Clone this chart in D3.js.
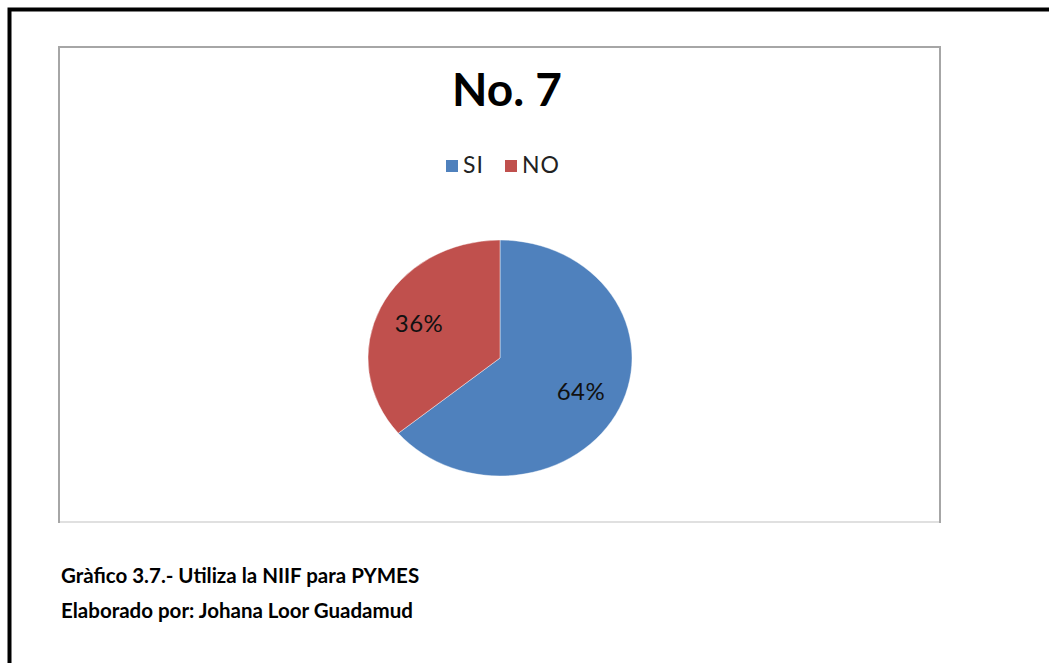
<!DOCTYPE html>
<html>
<head>
<meta charset="utf-8">
<script src="https://cdn.jsdelivr.net/npm/d3@7"></script>
<style>
  body { margin: 0; background: #fff; }
  text { font-family: Lato, 'Open Sans', sans-serif; }
</style>
</head>
<body>
<div id="chart"></div>
<script>
const categories = ['SI', 'NO']
const values = [64, 36]
const colors = ['#4F81BD', '#C0504D']
const title = 'No. 7'
const captions = ['Gràfico 3.7.- Utiliza la NIIF para PYMES', 'Elaborado por: Johana Loor Guadamud']

const width = 1049
const height = 663

const svg = d3
  .select('#chart')
  .append('svg')
  .attr('width', width)
  .attr('height', height)

// page border (top + left only)
svg.append('path')
  .attr('d', 'M9.5,663 L9.5,9.5 L1049,9.5')
  .attr('fill', 'none')
  .attr('stroke', '#000')
  .attr('stroke-width', 4)

// chart frame
const frame = { x: 58, y: 46, w: 883, h: 477 }
svg.append('rect')
  .attr('x', frame.x + 1)
  .attr('y', frame.y + 1)
  .attr('width', frame.w - 2)
  .attr('height', frame.h - 2)
  .attr('fill', '#fff')
  .attr('stroke', '#a6a6a6')
  .attr('stroke-width', 2)
svg.append('line')
  .attr('x1', frame.x + 2).attr('x2', frame.x + frame.w - 2)
  .attr('y1', frame.y + frame.h - 1).attr('y2', frame.y + frame.h - 1)
  .attr('stroke', '#e0e0e0')
  .attr('stroke-width', 2)

svg.append('text')
  .text(title)
  .attr('x', 507)
  .attr('y', 106)
  .attr('text-anchor', 'middle')
  .attr('font-size', 46)
  .attr('font-weight', 'bold')
  .attr('fill', '#000')

// legend
const legendX = d3.scaleOrdinal().domain(categories).range([446, 505])
const legend = svg.selectAll('.legend')
  .data(categories)
  .enter()
  .append('g')
  .attr('class', 'legend')
  .attr('transform', d => 'translate(' + legendX(d) + ',160)')
legend.append('rect')
  .attr('width', 12)
  .attr('height', 12)
  .attr('fill', (d, i) => colors[i])
legend.append('text')
  .text(d => d)
  .attr('x', 17)
  .attr('y', 13)
  .attr('font-size', 23)
  .attr('letter-spacing', 1)
  .attr('fill', '#222')

// pie (slightly elliptical like the original)
const rx = 132
const ry = 118
const pie = d3.pie().sort(null).value(d => d)
const arc = d3.arc().innerRadius(0).outerRadius(ry)
const labelArc = d3.arc().innerRadius(80).outerRadius(80)

const pieG = svg.append('g')
  .attr('transform', 'translate(500,358)')

pieG.append('g')
  .attr('transform', 'scale(' + rx / ry + ',1)')
  .selectAll('path')
  .data(pie(values))
  .enter()
  .append('path')
  .attr('d', arc)
  .attr('fill', (d, i) => colors[i])
  .attr('stroke', 'rgba(255,255,255,0.5)')
  .attr('stroke-width', 0.8)

pieG.selectAll('.label')
  .data(pie(values))
  .enter()
  .append('text')
  .attr('class', 'label')
  .text(d => d.data + '%')
  .attr('x', d => labelArc.centroid(d)[0] * rx / ry)
  .attr('y', d => labelArc.centroid(d)[1])
  .attr('dy', '0.35em')
  .attr('text-anchor', 'middle')
  .attr('font-size', 24)
  .attr('letter-spacing', 0.5)
  .attr('fill', '#111')

svg.selectAll('.caption')
  .data(captions)
  .enter()
  .append('text')
  .attr('class', 'caption')
  .text(d => d)
  .attr('x', 61)
  .attr('y', (d, i) => 583 + i * 35)
  .attr('font-size', 20.5)
  .attr('font-weight', 'bold')
  .attr('fill', '#000')
</script>
</body>
</html>
